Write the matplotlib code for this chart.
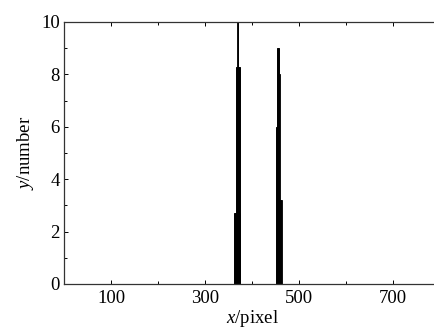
import matplotlib
matplotlib.use('Agg')
import matplotlib.pyplot as plt
from matplotlib.ticker import MultipleLocator

# pixel positions (x) and counts (y) of the two peaks
x_left = [362, 363, 364, 365, 366, 367, 368, 369, 370, 371, 372, 373, 374, 375]
y_left = [2.7, 2.7, 2.7, 2.7, 8.3, 8.3, 8.3, 10, 10, 8.3, 8.3, 8.3, 8.3, 2.7]
x_right = [451, 452, 453, 454, 455, 456, 457, 458, 459, 460, 461, 462, 463]
y_right = [6, 6, 9, 9, 9, 9, 9, 8, 8, 3.2, 3.2, 3.2, 3.2]

x_ticks = [100, 300, 500, 700]
y_ticks = [0, 2, 4, 6, 8, 10]

plt.rcParams['font.family'] = 'Liberation Serif'
plt.rcParams['mathtext.fontset'] = 'custom'
plt.rcParams['mathtext.rm'] = 'Liberation Serif'
plt.rcParams['mathtext.it'] = 'Liberation Serif:italic'

fig = plt.figure(figsize=(4.34, 3.32), dpi=100)
# axes run past the right edge of the figure, as in the cropped original
ax = fig.add_axes([64 / 434, 48 / 332, 376 / 434, 262 / 332])

ax.bar(x_left, y_left, width=1, color='black', edgecolor='black', linewidth=0.6)
ax.bar(x_right, y_right, width=1, color='black', edgecolor='black', linewidth=0.6)

ax.set_xlim(0, 800)
ax.set_ylim(0, 10)
ax.set_xticks(x_ticks)
ax.set_yticks(y_ticks)
ax.xaxis.set_minor_locator(MultipleLocator(100))
ax.yaxis.set_minor_locator(MultipleLocator(1))
ax.tick_params(which='both', direction='in', top=True, right=False, labelsize=13.5, width=0.7)
ax.tick_params(which='major', length=3)
ax.tick_params(which='minor', length=2)
ax.tick_params(axis='x', pad=4)
ax.tick_params(axis='y', pad=3)

for s in ax.spines.values():
    s.set_linewidth(0.9)
    s.set_color('#333333')
ax.spines['right'].set_visible(False)

ax.set_xlabel('$\\it{x}$/pixel', fontsize=13.5, labelpad=1)
ax.set_ylabel('$\\it{y}$/number', fontsize=13.5, labelpad=4)

plt.savefig('out.png', dpi=100)
